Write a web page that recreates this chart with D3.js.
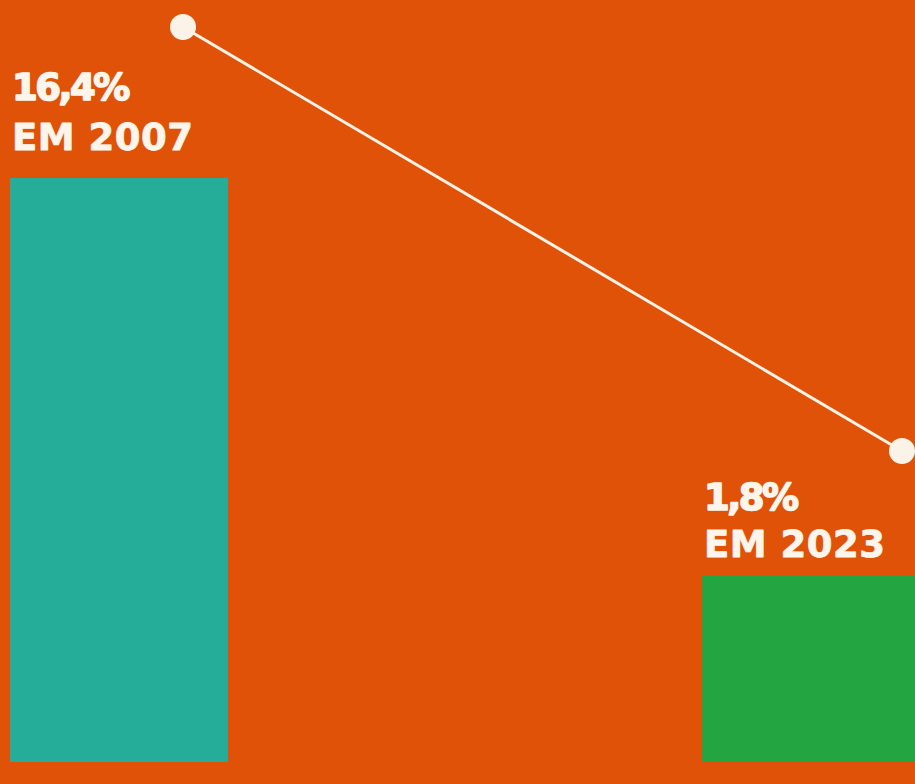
<!DOCTYPE html>
<html>
<head>
<meta charset="utf-8">
<script src="https://cdn.jsdelivr.net/npm/d3@7"></script>
<style>
  html, body { margin: 0; padding: 0; background: #e05208; overflow: hidden; }
  svg { display: block; }
</style>
</head>
<body>
<div id="chart"></div>
<script>
var width = 915;
var height = 784;

var years = ["2007", "2023"];
var values = [16.4, 1.8];
var valueLabels = ["16,4%", "1,8%"];
var barColors = ["#25ad9a", "#23a541"];

var svg = d3.select("div#chart").append("svg")
    .attr("width", width)
    .attr("height", height);

svg.append("rect")
    .attr("width", width)
    .attr("height", height)
    .attr("fill", "#e05208");

// bars
var xBand = d3.scaleBand()
    .domain(years)
    .range([10, 920])
    .paddingInner(0.685)
    .paddingOuter(0);
var baseline = 762;
var yBar = d3.scaleLinear()
    .domain([1.8, 16.4])
    .range([576, 178]);

svg.selectAll("rect.bar")
    .data(years)
    .enter()
    .append("rect")
    .attr("class", "bar")
    .attr("x", function(d){ return xBand(d); })
    .attr("y", function(d, i){ return yBar(values[i]); })
    .attr("width", xBand.bandwidth())
    .attr("height", function(d, i){ return baseline - yBar(values[i]); })
    .attr("fill", function(d, i){ return barColors[i]; });

// labels above the bars (the taller bar has a bit more room)
var labels = svg.selectAll("g.label")
    .data(years)
    .enter()
    .append("g")
    .attr("class", "label")
    .attr("transform", function(d, i){
        return "translate(" + (xBand(d) + 2) + "," + yBar(values[i]) + ")";
    })
    .attr("fill", "#fbf5ec")
    .attr("stroke", "#fbf5ec")
    .attr("stroke-linejoin", "round")
    .attr("font-family", "'DejaVu Sans', sans-serif")
    .attr("font-weight", "bold");

labels.append("text")
    .attr("y", function(d, i){ return i == 0 ? -78 : -66; })
    .attr("font-size", 37)
    .attr("letter-spacing", -2.5)
    .attr("stroke-width", 1.6)
    .text(function(d, i){ return valueLabels[i]; });

labels.append("text")
    .attr("y", function(d, i){ return i == 0 ? -28 : -19; })
    .attr("font-size", 37)
    .attr("letter-spacing", 0.5)
    .attr("stroke-width", 0.8)
    .text(function(d){ return "EM " + d; });

// trend line
var xPoint = d3.scalePoint()
    .domain(years)
    .range([183, 902]);
var yLine = d3.scaleLinear()
    .domain([1.8, 16.4])
    .range([451, 27]);

var line = d3.line()
    .x(function(d){ return xPoint(d); })
    .y(function(d, i){ return yLine(values[i]); });

svg.append("path")
    .datum(years)
    .attr("d", line)
    .attr("fill", "none")
    .attr("stroke", "#fbf3e8")
    .attr("stroke-width", 3);

svg.selectAll("circle.dot")
    .data(years)
    .enter()
    .append("circle")
    .attr("class", "dot")
    .attr("cx", function(d){ return xPoint(d); })
    .attr("cy", function(d, i){ return yLine(values[i]); })
    .attr("r", 13)
    .attr("fill", "#fbf3e8");
</script>
</body>
</html>
